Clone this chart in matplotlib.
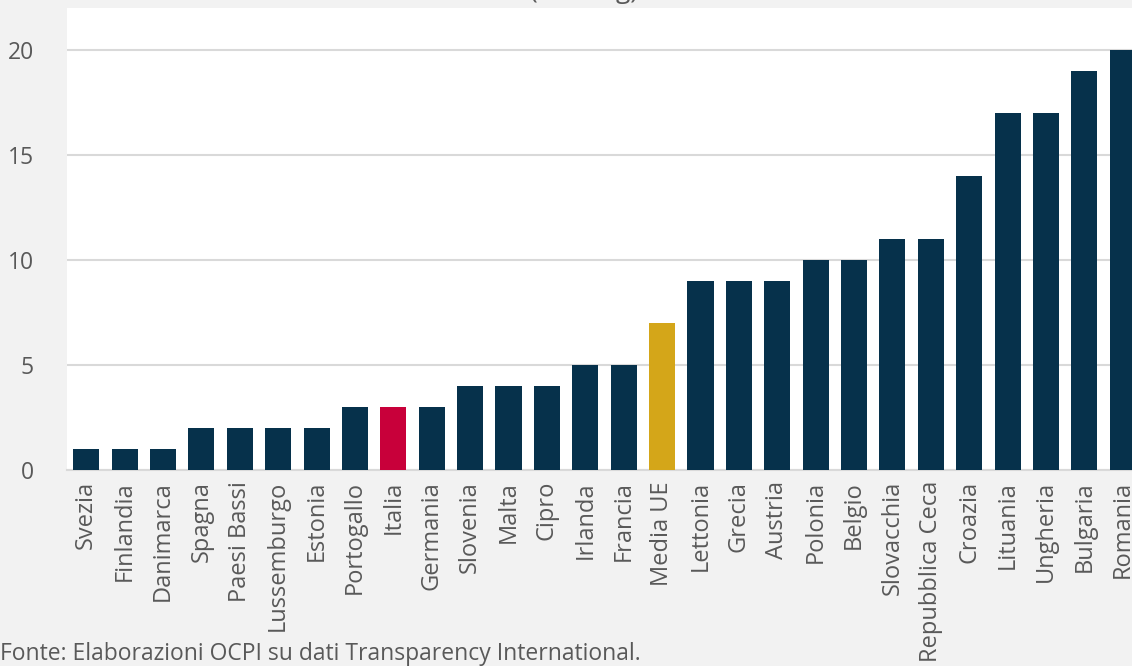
import matplotlib
matplotlib.use("Agg")
import matplotlib.pyplot as plt

# Data
countries = ["Svezia", "Finlandia", "Danimarca", "Spagna", "Paesi Bassi", "Lussemburgo",
             "Estonia", "Portogallo", "Italia", "Germania", "Slovenia", "Malta", "Cipro",
             "Irlanda", "Francia", "Media UE", "Lettonia", "Grecia", "Austria", "Polonia",
             "Belgio", "Slovacchia", "Repubblica Ceca", "Croazia", "Lituania", "Ungheria",
             "Bulgaria", "Romania"]
values = [1, 1, 1, 2, 2, 2, 2, 3, 3, 3, 4, 4, 4, 5, 5, 7, 9, 9, 9, 10, 10, 11, 11, 14,
          17, 17, 19, 20]
y_ticks = [0, 5, 10, 15, 20]

navy = "#06314b"
red = "#c8003a"
gold = "#d4a619"
text_col = "#595959"
bg = "#f2f2f2"

colours = []
for c in countries:
    if c == "Italia":
        colours.append(red)
    elif c == "Media UE":
        colours.append(gold)
    else:
        colours.append(navy)

plt.rcParams['font.family'] = ['Open Sans', 'DejaVu Sans']

fig = plt.figure(figsize=(11.32, 6.66), dpi=100, facecolor=bg)
# the plot area runs past the right edge, as in the reference
ax = fig.add_axes([67 / 1132, 196 / 666, 1075 / 1132, 462 / 666])
ax.set_facecolor("white")

x = range(len(countries))
ax.bar(x, values, width=0.68, color=colours, zorder=3)

ax.set_xlim(-0.5, len(countries) - 0.5)
ax.set_ylim(0, 22)
ax.set_yticks(y_ticks)
ax.yaxis.grid(True, color="#d9d9d9", linewidth=1.5, zorder=0)
ax.set_xticks(list(x))
ax.set_xticklabels(countries, rotation=90, fontsize=17, color=text_col)
ax.tick_params(axis="y", labelsize=16.5, labelcolor=text_col, length=0, pad=24)
ax.tick_params(axis="x", length=0, pad=8)
for side in ["top", "right", "left"]:
    ax.spines[side].set_visible(False)
ax.spines["bottom"].set_color("#d9d9d9")
ax.spines["bottom"].set_linewidth(1.5)

# title, only its lower edge is visible at the top of the image
fig.text(584 / 1132, 1 + 2 / 666, "(ranking)", ha="center", va="baseline",
         fontsize=19, color=text_col)

fig.text(0.0, 6 / 666, "Fonte: Elaborazioni OCPI su dati Transparency International.",
         ha="left", va="baseline", fontsize=16.5, color=text_col)

fig.savefig("out.png", dpi=100, facecolor=bg)
